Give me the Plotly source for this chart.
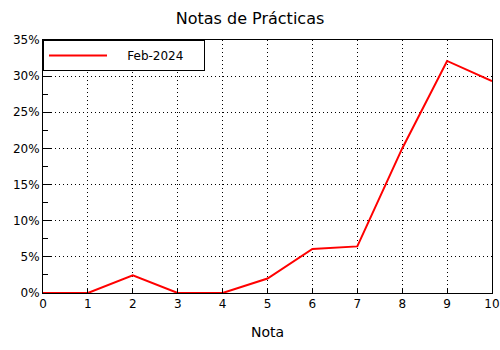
import plotly.graph_objects as go

notas = [0, 1, 2, 3, 4, 5, 6, 7, 8, 9, 10]
feb_2024 = [0.0, 0.0, 2.45, 0.0, 0.0, 2.0, 6.1, 6.45, 20.0, 32.1, 29.3]
y_ticks = [0, 5, 10, 15, 20, 25, 30, 35]
y_labels = [f"{v}%" for v in y_ticks]
series_name = "Feb-2024"

FONT = "DejaVu Sans, sans-serif"
DOTS = "1px,3px"
PAD = "\u00a0" * 4

fig = go.Figure()
fig.add_trace(go.Scatter(
    x=notas, y=feb_2024, mode="lines", name=PAD + series_name + PAD,
    line=dict(color="#ff0000", width=2),
))

fig.update_layout(
    width=500, height=350,
    margin=dict(l=43, r=8, t=40, b=57),
    paper_bgcolor="white", plot_bgcolor="white",
    font=dict(family=FONT, size=12, color="black"),
    title=dict(text="Notas de Prácticas", x=0.5, xanchor="center",
               y=0.948, yanchor="middle", font=dict(size=16, family=FONT)),
    showlegend=True,
    legend=dict(x=0, y=1, xanchor="left", yanchor="top",
                bgcolor="white", bordercolor="black", borderwidth=1,
                itemwidth=58, font=dict(size=12, family=FONT),
                tracegroupgap=0),
    xaxis=dict(
        range=[0, 10], tickvals=notas, ticktext=[str(v) for v in notas],
        showgrid=True, gridcolor="black", griddash=DOTS, gridwidth=1,
        showline=True, linecolor="black", linewidth=1, mirror=True,
        ticks="inside", ticklen=5, tickcolor="black",
        zeroline=False, automargin=False,
        title=dict(text="Nota", standoff=16, font=dict(size=14)),
    ),
    yaxis=dict(
        range=[0, 35], tickvals=y_ticks, ticktext=y_labels,
        showgrid=True, gridcolor="black", griddash=DOTS, gridwidth=1,
        showline=True, linecolor="black", linewidth=1, mirror=True,
        ticks="inside", ticklen=8, tickcolor="black",
        minor=dict(dtick=2.5, ticks="inside", ticklen=5, tickcolor="black", showgrid=False),
        zeroline=False, automargin=False,
    ),
)

fig.write_html("out.html")
